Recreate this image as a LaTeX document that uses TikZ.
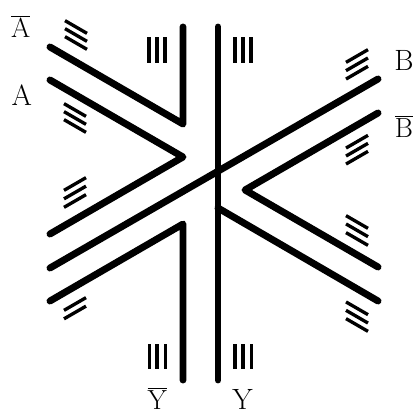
\documentclass[tikz,border=0pt]{standalone}
\usetikzlibrary{calc}
\begin{document}
\begin{tikzpicture}[x=0.75pt,y=-0.75pt,
  wire/.style={line width=5.2pt,line cap=round,line join=round},
  hashline/.style={line width=2.5pt},
  barline/.style={line width=2.8pt},
  lbl/.style={font=\fontsize{22}{26}\selectfont, inner sep=0pt, anchor=base}]
\useasboundingbox (0,0) rectangle (418,414);
% wire end and corner points
\coordinate (a1) at (50,47);   \coordinate (a2) at (183,124); \coordinate (a3) at (183,27);
\coordinate (b1) at (50,80);   \coordinate (b2) at (183,157); \coordinate (b3) at (50,234);
\coordinate (c1) at (50,268);  \coordinate (c2) at (378,79);
\coordinate (d1) at (50,301);  \coordinate (d2) at (183,224); \coordinate (d3) at (183,380);
\coordinate (e1) at (378,113); \coordinate (e2) at (245,190); \coordinate (e3) at (378,267);
\coordinate (f1) at (218,27);  \coordinate (f2) at (218,380);
\coordinate (g1) at (218,208); \coordinate (g2) at (378,301);
% wires
\draw[wire] (a1) -- (a2) -- (a3);
\draw[wire] (b1) -- (b2) -- (b3);
\draw[wire] (c1) -- (c2);
\draw[wire] (d1) -- (d2) -- (d3);
\draw[wire] (e1) -- (e2) -- (e3);
\draw[wire] (f1) -- (f2);
\draw[wire] (g1) -- (g2);
% hash marks, falling to the right
\foreach \yy in {27,35,43} \draw[hashline] (65,\yy-6.35) -- ++(22,12.7);
\foreach \yy in {110,118,126} \draw[hashline] (64,\yy-6.35) -- ++(22,12.7);
\foreach \yy in {222,230.3,239} \draw[hashline] (346,\yy-6.35) -- ++(22,12.7);
\foreach \yy in {308.3,316.7,325} \draw[hashline] (346,\yy-6.35) -- ++(22,12.7);
% hash marks, rising to the right
\foreach \yy in {184,192.5,201} \draw[hashline] (64,\yy+6.35) -- ++(22,-12.7);
\foreach \yy in {304,312.5} \draw[hashline] (64,\yy+6.35) -- ++(22,-12.7);
\foreach \yy in {56,64.3,72.7} \draw[hashline] (346,\yy+6.35) -- ++(22,-12.7);
\foreach \yy in {141.7,149.7,157.7} \draw[hashline] (346,\yy+6.35) -- ++(22,-12.7);
% vertical bars
\foreach \xx in {149,157,165} \draw[barline] (\xx,37.3) -- (\xx,62.7);
\foreach \xx in {235,243,251} \draw[barline] (\xx,37.3) -- (\xx,62.7);
\foreach \xx in {149.5,157,165.5} \draw[barline] (\xx,344) -- (\xx,369);
\foreach \xx in {235,243,251.5} \draw[barline] (\xx,344) -- (\xx,369);
% labels
\node[lbl] (Abar) at (20.8,37) {$\overline{\mathrm{A}}$};
\node[lbl] (A) at (21.7,105) {A};
\node[lbl] (B) at (404,70) {B};
\node[lbl] (Bbar) at (404,137) {$\overline{\mathrm{B}}$};
\node[lbl] (Ybar) at (157.5,409) {$\overline{\mathrm{Y}}$};
\node[lbl] (Y) at (242.5,409) {Y};
\end{tikzpicture}
\end{document}
